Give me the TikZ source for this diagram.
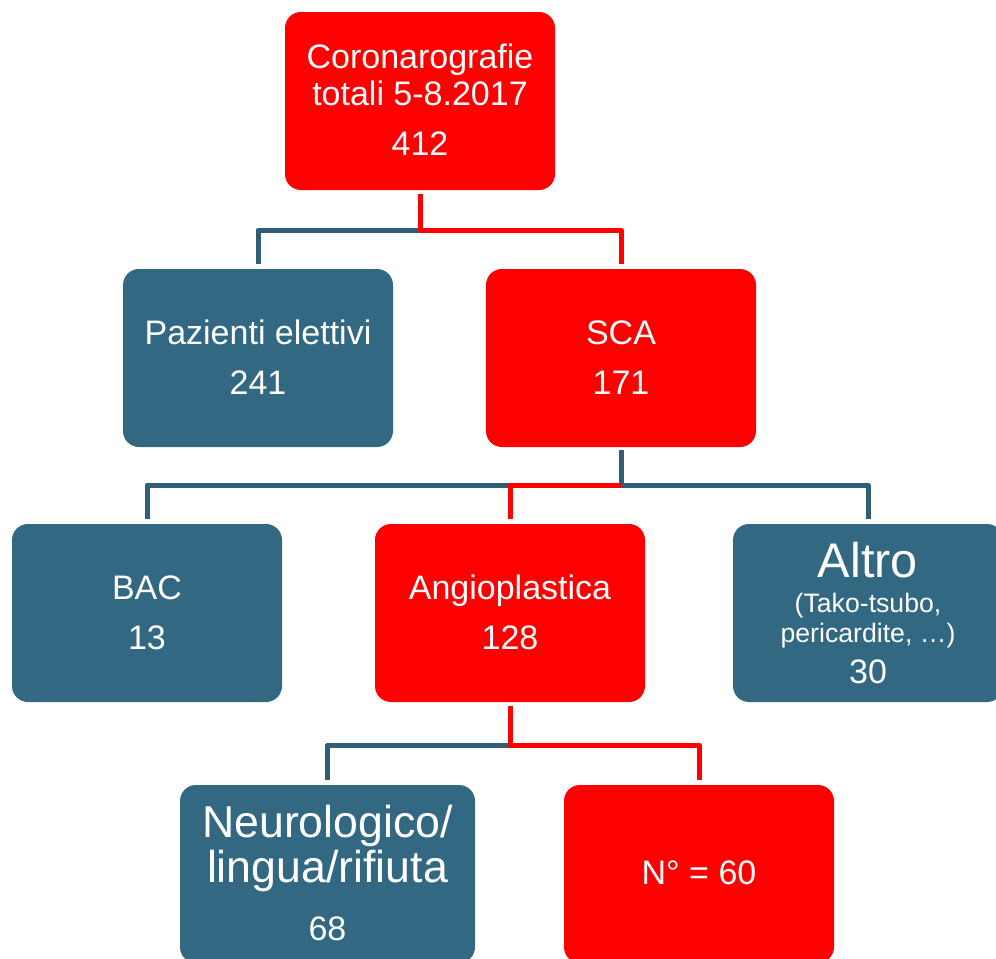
\documentclass[tikz,border=0pt]{standalone}
\usepackage{fontspec}
\setmainfont{Liberation Sans}
\usepackage{xcolor}
\usepackage{tikz}
\usetikzlibrary{positioning, calc}

\definecolor{scared}{RGB}{255,0,0}
\definecolor{boxblue}{RGB}{51,104,130}
\definecolor{lineblue}{RGB}{47,94,117}

\begin{document}
\begin{tikzpicture}[x=0.75pt, y=-0.75pt,
        box/.style={rounded corners=12pt, minimum width=202.5pt, minimum height=133.5pt, inner sep=0pt, outer sep=0pt},
        redbox/.style={box, fill=scared},
        bluebox/.style={box, fill=boxblue},
        txt/.style={text=white, anchor=base, inner sep=0pt, font=\fontsize{25.5}{30}\selectfont},
        bigtxt/.style={txt, font=\fontsize{36.5}{40}\selectfont},
        midtxt/.style={txt, font=\fontsize{33.5}{38}\selectfont},
        smalltxt/.style={txt, font=\fontsize{20}{24}\selectfont},
        link/.style={line width=3.75pt, line join=round},
        redlink/.style={link, draw=scared},
        bluelink/.style={link, draw=lineblue}]
        \useasboundingbox (0,0) rectangle (996,958);
        \clip (0,0) rectangle (996,958);

        % boxes
        \node[redbox] (tot) at (420,101) {};
        \node[bluebox] (paz) at (258,358) {};
        \node[redbox] (sca) at (621,358) {};
        \node[bluebox] (bac) at (147,613) {};
        \node[redbox] (angio) at (510,613) {};
        \node[bluebox] (altro) at (868,613) {};
        \node[bluebox, minimum width=221.25pt] (neuro) at (327.5,874) {};
        \node[redbox] (nsessanta) at (699,874) {};

        % texts
        \node[txt] (tot1) at (420,68) {Coronarografie};
        \node[txt] (tot2) at (420,105) {totali 5-8.2017};
        \node[txt] (tot3) at (420,155) {412};
        \node[txt] (paz1) at (258,344) {Pazienti elettivi};
        \node[txt] (paz2) at (258,394) {241};
        \node[txt] (sca1) at (621,344) {SCA};
        \node[txt] (sca2) at (621,394) {171};
        \node[txt] (bac1) at (147,599) {BAC};
        \node[txt] (bac2) at (147,649) {13};
        \node[txt] (angio1) at (510,599) {Angioplastica};
        \node[txt] (angio2) at (510,649) {128};
        \node[bigtxt] (altro1) at (868,577) {Altro};
        \node[smalltxt] (altro2) at (868,612) {(Tako-tsubo,};
        \node[smalltxt] (altro3) at (868,642) {pericardite, …)};
        \node[txt] (altro4) at (868,683) {30};
        \node[midtxt] (neuro1) at (327.5,837) {Neurologico/};
        \node[midtxt] (neuro2) at (327.5,882) {lingua/rifiuta};
        \node[txt] (neuro3) at (327.5,940) {68};
        \node[txt] (nsessanta1) at (699,884) {N° = 60};

        % connectors
        \coordinate (j1) at (420,230);
        \coordinate (j2) at (621,485);
        \coordinate (j3) at (510,745);

        \draw[bluelink, shorten <=3.75pt] (paz.north) |- (j1);
        \draw[redlink, shorten <=3pt, shorten >=3.75pt] (tot.south) -- (j1) -| (sca.north);

        \draw[bluelink, shorten <=3.75pt, shorten >=3.75pt] (bac.north) |- (j2) -| (altro.north);
        \draw[bluelink, shorten <=2.5pt] (sca.south) -- (j2);
        \draw[redlink, shorten >=3.75pt] (j2) -| (angio.north);

        \draw[bluelink, shorten <=3.75pt] (neuro.north) |- (j3);
        \draw[redlink, shorten <=3pt, shorten >=3.75pt] (angio.south) -- (j3) -| (nsessanta.north);

    \end{tikzpicture}
\end{document}
